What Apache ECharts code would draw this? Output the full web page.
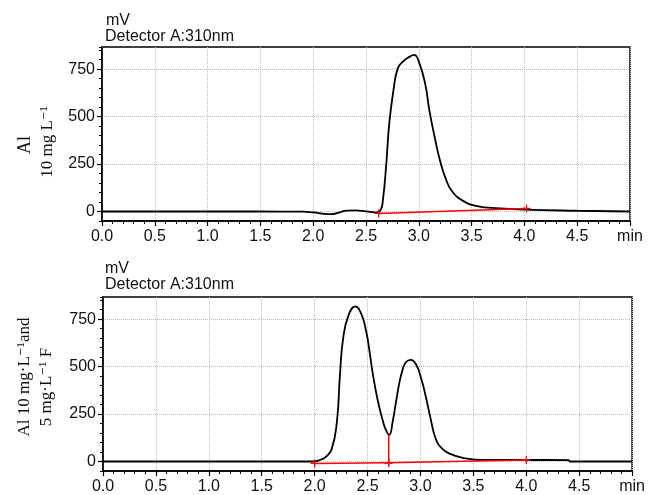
<!DOCTYPE html>
<html><head><meta charset="utf-8">
<script src="https://cdn.jsdelivr.net/npm/echarts@6/dist/echarts.min.js"></script>
<style>html,body{margin:0;padding:0;background:#fff}#c{width:648px;height:495px}</style>
</head><body><div id="c"></div>
<script>
// Top chromatogram: Al 10 mg/L
var topTime = [0.0,0.5,1.0,1.5,1.9,2.0,2.1,2.17,2.25,2.32,2.4,2.5,2.6,2.64,2.66,2.69,2.72,2.76,2.80,2.85,2.91,2.955,3.0,3.06,3.10,3.15,3.20,3.26,3.32,3.42,3.54,3.77,4.0,4.5,5.0];
var topSignal = [0,0,0,0,-1,-5,-12,-14,-4,5,6,1,-5,10,60,235,463,638,753,790,815,826,790,674,533,393,270,165,103,56,30,16,10,4,0];
var topBaseTime = [2.62,4.02];
var topBaseVal = [-10,16];
// Bottom chromatogram: Al 10 mg/L and F 5 mg/L
var botTime = [0,0.5,1.0,1.5,1.95,2.0,2.05,2.10,2.16,2.21,2.24,2.27,2.32,2.384,2.44,2.487,2.518,2.549,2.596,2.643,2.674,2.706,2.737,2.768,2.80,2.83,2.862,2.908,2.955,3.002,3.049,3.096,3.142,3.20,3.28,3.41,3.60,4.0,4.4,4.41,5.0];
var botSignal = [0,0,0,0,0,1,8,22,64,209,464,651,770,818,779,685,583,464,323,217,166,141,209,311,413,481,523,536,515,447,345,226,124,70,40,18,8,8,7,0,0];
var botBase1Time = [2.0,2.70];
var botBase1Val = [-10,-7];
var botBase2Time = [2.70,4.0];
var botBase2Val = [-7,8];
var botDropTime = [2.70,2.70];
var botDropVal = [-10,141];
// ticks
var yMajor = [0,250,500,750];
var xMin = 0, xMax = 5, xStep = 0.5;
var yMin = -50, yMax = 867;

function pairs(t,v){return t.map(function(x,i){return [x,v[i]];});}
var plus = 'path://M0,4.2L10,4.2L10,5.8L0,5.8ZM4.2,0L5.8,0L5.8,10L4.2,10Z';
var sans = 'Liberation Sans, Arial, sans-serif';
var lab = {fontFamily:sans,fontSize:16,color:'#111'};

function xAx(gi){return {type:'value',gridIndex:gi,min:xMin,max:xMax,interval:xStep,
  axisLine:{show:true,onZero:false,lineStyle:{color:'#000',width:1.5}},
  axisTick:{show:true,length:5,lineStyle:{color:'#000',width:1.2}},
  minorTick:{show:true,splitNumber:5,length:3,lineStyle:{color:'#000',width:1}},
  axisLabel:Object.assign({margin:8,formatter:function(v){return v>=5?'min':v.toFixed(1);}},lab),
  splitLine:{show:true,lineStyle:{color:'#bbb',type:'dotted',width:1}}};}
function yAx(gi){return {type:'value',gridIndex:gi,min:yMin,max:yMax,interval:50,
  axisLine:{show:true,lineStyle:{color:'#000',width:1.5}},
  axisTick:{show:true,length:5,customValues:yMajor,lineStyle:{color:'#000',width:1.2}},
  axisLabel:Object.assign({margin:7,customValues:yMajor},lab),
  splitLine:{show:true,lineStyle:{color:'#bbb',type:'dotted',width:1}}};}
function yMinorAx(gi){return {type:'value',gridIndex:gi,min:yMin,max:yMax,interval:50,position:'left',
  axisLine:{show:false},axisTick:{show:true,length:3,lineStyle:{color:'#000',width:1}},
  axisLabel:{show:false},splitLine:{show:false}};}

function trace(xi,yi,d){return {type:'line',xAxisIndex:xi,yAxisIndex:yi,data:d,smooth:0.5,
  showSymbol:false,symbol:'none',lineStyle:{color:'#000',width:1.8},z:3,silent:true};}
function red(xi,yi,d,sym){return {type:'line',xAxisIndex:xi,yAxisIndex:yi,data:d,
  symbol:sym?plus:'none',symbolSize:8,showSymbol:!!sym,itemStyle:{color:'#f00'},
  lineStyle:{color:'#f00',width:1.5},z:4,silent:true};}

var serif = 'Liberation Serif, Times New Roman, DejaVu Serif, serif';
var tf = '16px '+sans;
var chart = echarts.init(document.getElementById('c'));
chart.setOption({
  animation:false,
  grid:[{left:102,right:18,top:47,height:174,show:true,borderColor:'#000',borderWidth:1.5},
        {left:103,right:11,top:297,height:176,show:true,borderColor:'#000',borderWidth:1.5}],
  xAxis:[xAx(0),xAx(1)],
  yAxis:[yAx(0),yMinorAx(0),yAx(1),yMinorAx(1)],
  graphic:[
    {type:'text',left:106,top:13,style:{text:'mV',font:tf,fill:'#111'}},
    {type:'text',left:105,top:29,style:{text:'Detector A:310nm',font:tf,fill:'#111'}},
    {type:'text',left:105,top:261,style:{text:'mV',font:tf,fill:'#111'}},
    {type:'text',left:105,top:277,style:{text:'Detector A:310nm',font:tf,fill:'#111'}},
    {type:'text',x:25,y:145,rotation:Math.PI/2,style:{text:'Al',font:'18px '+serif,fill:'#111',textAlign:'center',textVerticalAlign:'middle'}},
    {type:'text',x:48,y:142,rotation:Math.PI/2,style:{text:'10 mg L\u207B\u00B9',font:'17px '+serif,fill:'#111',textAlign:'center',textVerticalAlign:'middle'}},
    {type:'text',x:25,y:377,rotation:Math.PI/2,style:{text:'Al 10 mg\u00B7L\u207B\u00B9and',font:'17px '+serif,fill:'#111',textAlign:'center',textVerticalAlign:'middle'}},
    {type:'text',x:47,y:387,rotation:Math.PI/2,style:{text:'5 mg\u00B7L\u207B\u00B9 F',font:'17px '+serif,fill:'#111',textAlign:'center',textVerticalAlign:'middle'}}
  ],
  series:[
    trace(0,0,pairs(topTime,topSignal)),
    red(0,0,pairs(topBaseTime,topBaseVal),true),
    trace(1,2,pairs(botTime,botSignal)),
    red(1,2,pairs(botBase1Time,botBase1Val),true),
    red(1,2,pairs(botBase2Time,botBase2Val),true),
    red(1,2,pairs(botDropTime,botDropVal),false)
  ]
});
</script></body></html>
